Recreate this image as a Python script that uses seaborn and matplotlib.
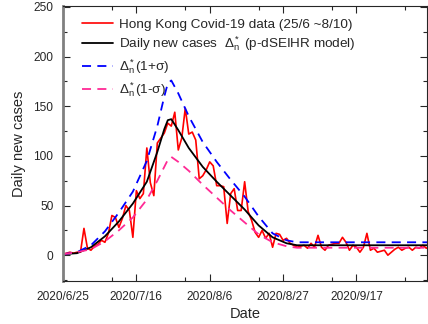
import datetime as dt
import matplotlib
matplotlib.use("Agg")
import matplotlib.pyplot as plt
import matplotlib.dates as mdates
import matplotlib.ticker as mticker
import pandas as pd
import seaborn as sns

# Hong Kong daily new cases, 25/6 ~ 8/10
start = dt.date(2020, 6, 25)
daily_cases = [1, 2, 3, 2, 3, 3, 27, 7, 5, 9,
               11, 15, 13, 22, 40, 38, 28, 37, 50, 45,
               18, 65, 57, 62, 108, 73, 60, 113, 118, 123,
               133, 130, 144, 106, 118, 148, 122, 124, 116, 77,
               80, 86, 94, 90, 70, 70, 69, 32, 62, 67,
               45, 45, 74, 44, 35, 23, 18, 25, 17, 22,
               8, 22, 21, 15, 17, 12, 10, 8, 9, 10,
               7, 12, 8, 20, 8, 5, 10, 11, 12, 12,
               18, 13, 5, 10, 8, 3, 8, 22, 5, 7,
               3, 4, 5, 0, 3, 6, 8, 5, 7, 8,
               5, 8, 7, 10, 7, 9]

# model curves, sampled at these day offsets
model_days = [0, 4, 8, 12, 16, 20, 24, 27, 29, 30, 31, 33, 36, 40, 44,
              48, 52, 56, 60, 64, 67, 75, 90, 105]
model_mid = [1, 2, 8, 19, 34, 52, 74, 104, 127, 136, 137, 126, 108, 89, 74,
             60, 46, 30, 18, 12, 10, 10, 10, 10]
model_upper = [1, 3, 10, 24, 43, 64, 95, 130, 160, 173, 176, 163, 140, 114, 94,
               76, 59, 39, 22, 15, 13, 13, 13, 13]
model_lower = [1, 3, 6, 14, 25, 38, 56, 75, 89, 96, 99, 94, 85, 71, 58,
               45, 33, 21, 13, 9, 7.5, 7.5, 7.5, 7.5]

data_df = pd.DataFrame({
    "date": pd.to_datetime([start + dt.timedelta(days=i) for i in range(len(daily_cases))]),
    "cases": daily_cases,
})
model_df = pd.DataFrame({
    "date": pd.to_datetime([start + dt.timedelta(days=d) for d in model_days]),
    "mid": model_mid,
    "upper": model_upper,
    "lower": model_lower,
})

sns.set_style("ticks")
plt.rcParams["font.family"] = ["Liberation Sans", "DejaVu Sans"]
plt.rcParams["mathtext.fontset"] = "custom"
plt.rcParams["mathtext.rm"] = "Liberation Sans"
plt.rcParams["mathtext.it"] = "Liberation Sans"

fig = plt.figure(figsize=(4.28, 3.24), dpi=100)
ax = fig.add_axes([63 / 428, 1 - 281 / 324, 364 / 428, 275 / 324])

sns.lineplot(data=data_df, x="date", y="cases", ax=ax, color="#ff0000", lw=1.2,
             label="Hong Kong Covid-19 data (25/6 ~8/10)")
sns.lineplot(data=model_df, x="date", y="mid", ax=ax, color="black", lw=1.3,
             label=r"Daily new cases  $\Delta^*_n$ (p-dSEIHR model)")
sns.lineplot(data=model_df, x="date", y="upper", ax=ax, color="#0000ff", lw=1.3,
             linestyle=(0, (5, 3.5)), label=r"$\Delta^*_n$(1+$\sigma$)")
sns.lineplot(data=model_df, x="date", y="lower", ax=ax, color="#ff2a95", lw=1.3,
             linestyle=(0, (5, 3.5)), label=r"$\Delta^*_n$(1-$\sigma$)")

# axes limits and ticks
x0 = pd.Timestamp(start)
ax.set_xlim(x0, x0 + pd.Timedelta(days=104.2))
ax.set_ylim(-26, 251)
major = [x0 + pd.Timedelta(days=21 * k) for k in range(5)]
minor = [m + pd.Timedelta(days=14) for m in major]
ax.xaxis.set_major_locator(mticker.FixedLocator(mdates.date2num(major)))
ax.xaxis.set_minor_locator(mticker.FixedLocator(mdates.date2num(minor)))
ax.xaxis.set_major_formatter(mticker.FuncFormatter(
    lambda v, p: "{0.year}/{0.month}/{0.day}".format(mdates.num2date(v))))
ax.yaxis.set_major_locator(mticker.MultipleLocator(50))
ax.yaxis.set_minor_locator(mticker.MultipleLocator(25))
ax.tick_params(which="both", direction="in", top=True, right=True, labelsize=8.6, width=0.8)
ax.tick_params(which="major", length=5, pad=7)
ax.tick_params(which="minor", length=3)

for side in ["top", "right", "bottom"]:
    ax.spines[side].set_visible(True)
    ax.spines[side].set_linewidth(0.8)
ax.spines["left"].set_color("#808080")
ax.spines["left"].set_linewidth(2)

ax.set_xlabel("Date", fontsize=10.5, labelpad=3)
ax.set_ylabel("Daily new cases", fontsize=10.5, labelpad=5)

ax.legend(loc="upper left", bbox_to_anchor=(0.02, 1.0), frameon=False,
          fontsize=9.7, handlelength=2.3, labelspacing=0.3, handletextpad=0.45)

fig.savefig("out.png", dpi=100)
